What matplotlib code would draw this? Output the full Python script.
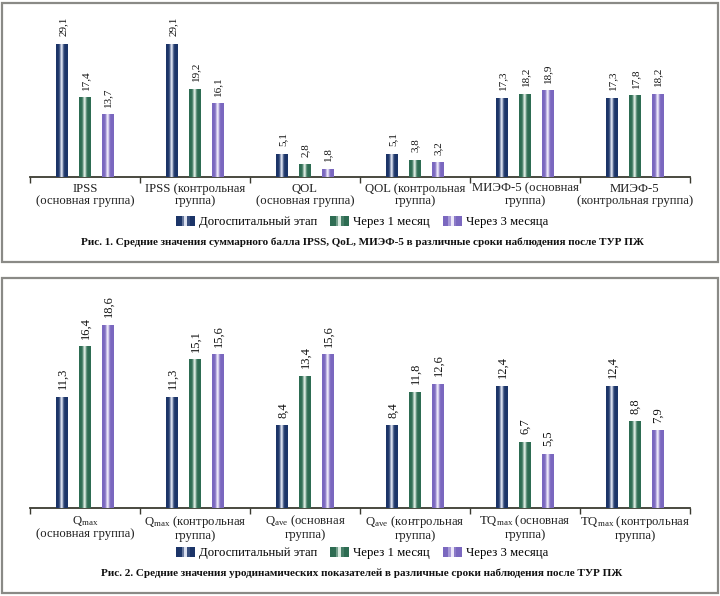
import matplotlib
matplotlib.use("Agg")
import matplotlib.pyplot as plt
import numpy as np
from matplotlib.patches import Rectangle, Patch
from matplotlib.legend_handler import HandlerTuple

plt.rcParams['font.family'] = ['Liberation Serif', 'DejaVu Serif']
plt.rcParams['mathtext.fontset'] = 'custom'
plt.rcParams['mathtext.rm'] = 'Liberation Serif'
plt.rcParams['mathtext.it'] = 'Liberation Serif:italic'
plt.rcParams['mathtext.bf'] = 'Liberation Serif:bold'

# ---------------- data ----------------
series_names = ["Догоспитальный этап", "Через 1 месяц", "Через 3 месяца"]

cats1 = ["IPSS\n(основная группа)", "IPSS (контрольная\nгруппа)",
         "QOL\n(основная группа)", "QOL (контрольная\nгруппа)",
         "МИЭФ-5 (основная\nгруппа)", "МИЭФ-5\n(контрольная группа)"]
pre1 = [29.1, 29.1, 5.1, 5.1, 17.3, 17.3]
m1_1 = [17.4, 19.2, 2.8, 3.8, 18.2, 17.8]
m3_1 = [13.7, 16.1, 1.8, 3.2, 18.9, 18.2]

cats2 = ["Q$_{\\mathrm{max}}$\n(основная группа)", "Q$_{\\mathrm{max}}$ (контрольная\nгруппа)",
         "Q$_{\\mathrm{ave}}$ (основная\nгруппа)", "Q$_{\\mathrm{ave}}$ (контрольная\nгруппа)",
         "TQ$_{\\mathrm{max}}$ (основная\nгруппа)", "TQ$_{\\mathrm{max}}$ (контрольная\nгруппа)"]
pre2 = [11.3, 11.3, 8.4, 8.4, 12.4, 12.4]
m1_2 = [16.4, 15.1, 13.4, 11.8, 6.7, 8.8]
m3_2 = [18.6, 15.6, 15.6, 12.6, 5.5, 7.9]

caption1 = "Рис. 1. Средние значения суммарного балла IPSS, QoL, МИЭФ-5 в различные сроки наблюдения после ТУР ПЖ"
caption2 = "Рис. 2. Средние значения уродинамических показателей в различные сроки наблюдения после ТУР ПЖ"

# ---------------- style ----------------
dark_cols = ["#1b3468", "#2d6c52", "#7a67bf"]
light_cols = ["#e4e9f6", "#e2f0e7", "#f2eefc"]

W, H = 720, 596
fig = plt.figure(figsize=(W / 100, H / 100), dpi=100)


def fy(y):
    return 1 - y / H


def gradient_img(dark, light, n=64):
    t = np.linspace(0, 1, n)
    w = np.exp(-((t - 0.47) / 0.14) ** 2)
    d = np.array(matplotlib.colors.to_rgb(dark))
    l = np.array(matplotlib.colors.to_rgb(light))
    row = d[None, :] * (1 - w[:, None]) + l[None, :] * w[:, None]
    return row[None, :, :]


def panel(ax, cats, vals_list, ymax, lab_size):
    x = np.arange(len(cats))
    bw = 0.109
    off = 0.205
    for i, vals in enumerate(vals_list):
        bars = ax.bar(x + (i - 1) * off, vals, width=bw, color=dark_cols[i],
                      linewidth=0, zorder=2)
        img = gradient_img(dark_cols[i], light_cols[i])
        for b, v in zip(bars, vals):
            bx, bwid, bh = b.get_x(), b.get_width(), b.get_height()
            im = ax.imshow(img, extent=[bx, bx + bwid, 0, bh], aspect='auto',
                           zorder=3, interpolation='bilinear')
            im.set_clip_path(b)
            ax.annotate(f"{v:.1f}".replace('.', ','), (bx + bwid / 2, bh),
                        xytext=(0.5, 5.5), textcoords='offset points',
                        rotation=90, ha='center', va='bottom',
                        fontsize=lab_size, color='#111111')
    ax.set_xlim(-0.5, len(cats) - 0.5)
    ax.set_ylim(0, ymax)
    for s in ['top', 'right', 'left']:
        ax.spines[s].set_visible(False)
    ax.spines['bottom'].set_color('#3a3a30')
    ax.spines['bottom'].set_linewidth(1.3)
    ax.set_yticks([])
    ax.set_xticks(x)
    ax.set_xticklabels(cats, fontsize=9.2, linespacing=1.0, color='#222222')
    ax.set_xticks(np.arange(-0.5, len(cats)), minor=True)
    ax.tick_params(axis='x', which='major', length=0, pad=4)
    ax.tick_params(axis='x', which='minor', length=4, width=1, color='#3a3a30',
                   direction='out')
    ax.patch.set_alpha(0)


ax1 = fig.add_axes([30 / W, fy(177), 660 / W, 167 / H])
panel(ax1, cats1, [pre1, m1_1, m3_1], 167 / 4.58, 8)

ax2 = fig.add_axes([30 / W, fy(508), 660 / W, 223 / H])
panel(ax2, cats2, [pre2, m1_2, m3_2], 223 / 9.85, 9)

# panel borders
for (x0, y0, x1, y1) in [(2, 3, 718, 262), (2, 278, 718, 593)]:
    fig.patches.append(Rectangle((x0 / W, fy(y1)), (x1 - x0) / W, (y1 - y0) / H,
                                 transform=fig.transFigure, fill=False,
                                 edgecolor='#8a8a86', linewidth=1.6, zorder=0))


# legends with striped handles
def striped(i, n=7):
    img = gradient_img(dark_cols[i], light_cols[i], n)[0]
    return tuple(Patch(facecolor=c, edgecolor='none') for c in img)


handles = [striped(i) for i in range(3)]
for ly in [222, 553]:
    fig.legend(handles, series_names, loc='center', bbox_to_anchor=(362 / W, fy(ly)),
               ncol=3, frameon=False, fontsize=9.2, handlelength=1.5,
               handleheight=0.8, handletextpad=0.3, columnspacing=1.0,
               handler_map={tuple: HandlerTuple(ndivide=None, pad=0)})

fig.text(362 / W, fy(242), caption1, ha='center', va='center', fontsize=8.0,
         fontweight='bold', color='#111111')
fig.text(362 / W, fy(573), caption2, ha='center', va='center', fontsize=8.0,
         fontweight='bold', color='#111111')

fig.savefig("out.png", dpi=100)
